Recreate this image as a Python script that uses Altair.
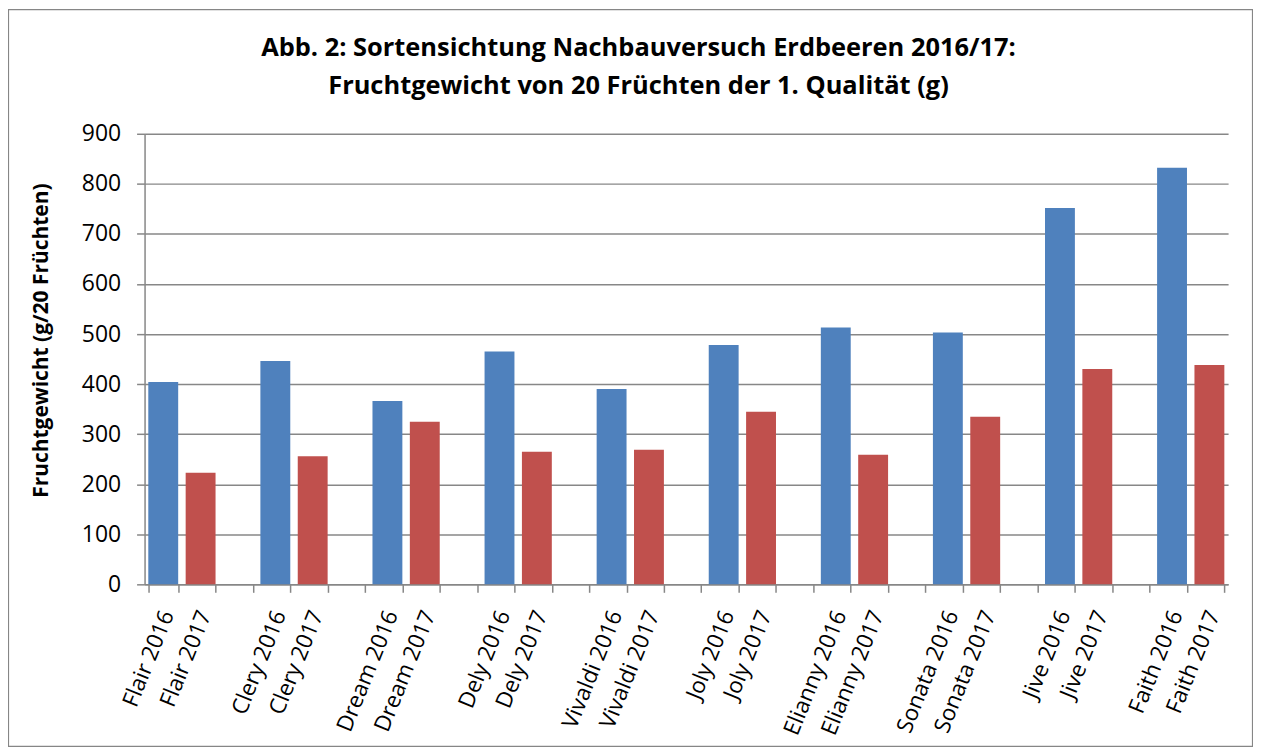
import altair as alt
import pandas as pd

varieties = ["Flair", "Clery", "Dream", "Dely", "Vivaldi", "Joly", "Elianny", "Sonata", "Jive", "Faith"]
years = ["2016", "2017"]
weights_2016 = [404, 446, 366, 465, 390, 478, 513, 503, 752, 832]
weights_2017 = [223, 256, 325, 265, 269, 345, 259, 335, 430, 438]
y_ticks = [0, 100, 200, 300, 400, 500, 600, 700, 800, 900]
title_lines = ["Abb. 2: Sortensichtung Nachbauversuch Erdbeeren 2016/17:",
               "Fruchtgewicht von 20 Früchten der 1. Qualität (g)"]
y_title = "Fruchtgewicht (g/20 Früchten)"

rows = []
order = []
for i, v in enumerate(varieties):
    for yr, vals in zip(years, [weights_2016, weights_2017]):
        lab = f"{v} {yr}"
        rows.append({"label": lab, "year": yr, "weight": vals[i]})
        order.append(lab)
    if i < len(varieties) - 1:
        order.append(" " * (i + 1))
df = pd.DataFrame(rows)

FONT = "Open Sans"
GRID = "#878787"
W, H = 1087, 452
PL, PT, PR, PB = 137, 125, 25, 163

bars = alt.Chart(df).mark_bar().encode(
    x=alt.X("label:N", sort=order,
            scale=alt.Scale(domain=order, paddingInner=0.2, paddingOuter=0.1),
            axis=alt.Axis(title=None, labelAngle=292, labelAlign="right", labelBaseline="middle",
                          labelFontSize=22.5, labelFont=FONT, labelColor="black",
                          labelPadding=19, labelOffset=4, tickSize=8, tickColor=GRID, tickWidth=1.5,
                          tickBand="extent", domainColor=GRID, domainWidth=1.5,
                          labelOverlap=False, labelLimit=300, grid=False)),
    y=alt.Y("weight:Q",
            scale=alt.Scale(domain=[0, 900], nice=False),
            axis=alt.Axis(values=y_ticks, title=y_title, titleFont=FONT, titleFontSize=21,
                          titleFontWeight="bold", titleColor="black", titleAngle=270,
                          titleX=-103, titleY=207, titleAlign="center", titleBaseline="middle",
                          labelFont=FONT, labelFontSize=23, labelColor="black", labelPadding=16,
                          tickSize=8, tickColor=GRID, tickWidth=1.5,
                          domainColor=GRID, domainWidth=1.5,
                          gridColor=GRID, gridWidth=1.5)),
    color=alt.Color("year:N", scale=alt.Scale(domain=years, range=["#4F81BD", "#C0504D"]), legend=None),
)

frame = alt.Chart(pd.DataFrame({"k": [0]})).mark_rect(
    fillOpacity=0, stroke="#868686", strokeWidth=1.2
).encode(
    x=alt.value(-PL + 0.5), x2=alt.value(W + PR - 0.5),
    y=alt.value(-PT + 0.5), y2=alt.value(H + PB - 0.5),
)

chart = alt.layer(bars, frame).properties(
    width=W, height=H,
    padding={"left": PL, "top": PT, "right": PR, "bottom": PB},
    autosize=alt.AutoSizeParams(type="none"),
    title=alt.TitleParams(text=title_lines, font=FONT, fontSize=25.5, fontWeight="bold",
                          color="black", anchor="middle", dx=-48, dy=PT + 6, offset=40, lineHeight=38),
).configure_view(stroke=None)

chart.save("out.html", embed_options={"renderer": "svg", "actions": False})
